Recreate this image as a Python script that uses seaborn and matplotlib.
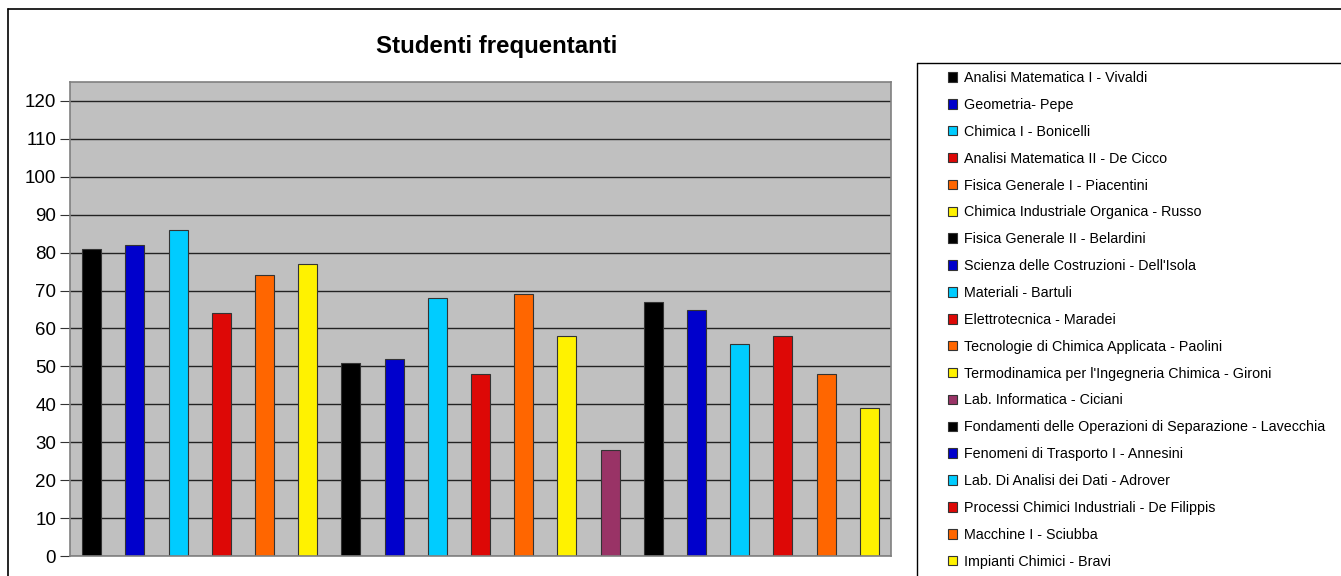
import matplotlib
matplotlib.use("Agg")
import matplotlib.pyplot as plt
from matplotlib.lines import Line2D
import seaborn as sns
import pandas as pd

# course names (legend order) and number of attending students
courses = [
    "Analisi Matematica I - Vivaldi",
    "Geometria- Pepe",
    "Chimica I - Bonicelli",
    "Analisi Matematica II - De Cicco",
    "Fisica Generale I - Piacentini",
    "Chimica Industriale Organica - Russo",
    "Fisica Generale II - Belardini",
    "Scienza delle Costruzioni - Dell'Isola",
    "Materiali - Bartuli",
    "Elettrotecnica - Maradei",
    "Tecnologie di Chimica Applicata - Paolini",
    "Termodinamica per l'Ingegneria Chimica - Gironi",
    "Lab. Informatica - Ciciani",
    "Fondamenti delle Operazioni di Separazione - Lavecchia",
    "Fenomeni di Trasporto I - Annesini",
    "Lab. Di Analisi dei Dati - Adrover",
    "Processi Chimici Industriali - De Filippis",
    "Macchine I - Sciubba",
    "Impianti Chimici - Bravi",
]
students = [81, 82, 86, 64, 74, 77, 51, 52, 68, 48, 69, 58, 28, 67, 65, 56, 58, 48, 39]

colors = [
    "#000000", "#0000CC", "#00CCFF", "#DD0806", "#FF6600", "#FFF200",
    "#000000", "#0000CC", "#00CCFF", "#DD0806", "#FF6600", "#FFF200",
    "#993366",
    "#000000", "#0000CC", "#00CCFF", "#DD0806", "#FF6600", "#FFF200",
]

df = pd.DataFrame({"Corso": courses, "Studenti": students})

sns.set_style("white")
plt.rcParams["font.family"] = ["Liberation Sans", "DejaVu Sans"]
plt.rcParams["text.color"] = "black"
plt.rcParams["ytick.color"] = "black"

fig = plt.figure(figsize=(13.41, 5.76), dpi=100)
ax = fig.add_axes([0.0522, 0.0347, 0.6122, 0.8229])

sns.barplot(data=df, x="Corso", y="Studenti", hue="Corso", palette=colors,
            width=0.44, edgecolor="#333333", linewidth=0.8, saturation=1,
            legend=True, ax=ax)

handles, labels = ax.get_legend_handles_labels()
ax.get_legend().remove()

ax.set_facecolor("#C0C0C0")
ax.set_ylim(0, 125)
ax.set_yticks(range(0, 121, 10))
ax.yaxis.grid(True, color="#222222", linewidth=1)
ax.set_axisbelow(True)
ax.set_xticks([])
ax.set_xlabel("")
ax.set_ylabel("")
ax.tick_params(axis="y", labelsize=13.5, length=7, color="#333333", direction="out",
               left=True, pad=3, labelcolor="black")
for s in ax.spines.values():
    s.set_color("#808080")
    s.set_linewidth(1.2)

fig.text(0.3706, 0.92, "Studenti frequentanti", ha="center", va="center",
         fontsize=17.3, fontweight="bold", color="black")

# outer chart frame (left and top edges visible)
fig.add_artist(Line2D([8 / 1341, 8 / 1341], [0, 1 - 9 / 576], color="black", lw=1.2))
fig.add_artist(Line2D([8 / 1341, 1], [1 - 9 / 576, 1 - 9 / 576], color="black", lw=1.2))

# legend frame
lx, ly = 917 / 1341, 1 - 63 / 576
fig.add_artist(Line2D([lx, lx], [0, ly], color="black", lw=1))
fig.add_artist(Line2D([lx, 1], [ly, ly], color="black", lw=1))

leg = fig.legend(handles, labels, loc="upper left", bbox_to_anchor=(948 / 1341, 1 - 71 / 576),
                 frameon=False, fontsize=10.3, handlelength=0.65, handleheight=0.65,
                 handletextpad=0.45, labelspacing=0.9, borderaxespad=0, borderpad=0)

fig.savefig("out.png", dpi=100)
